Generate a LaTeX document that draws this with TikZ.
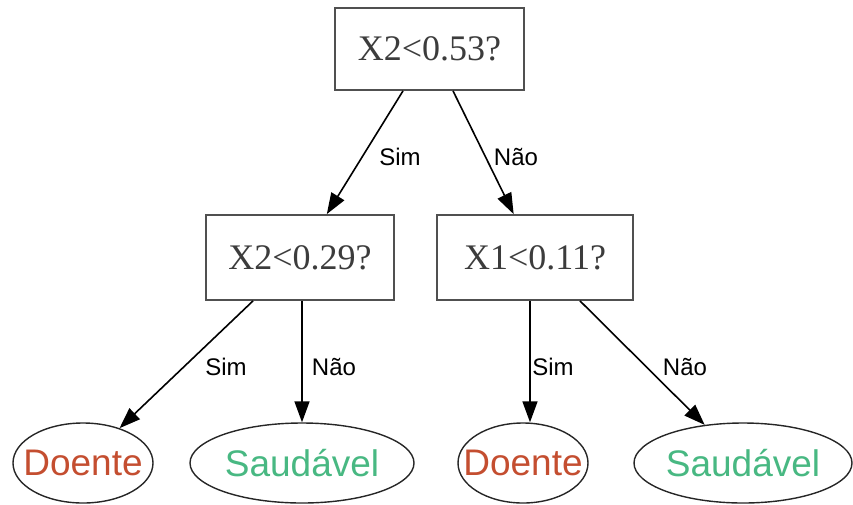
\documentclass[tikz,border=0pt]{standalone}
\usepackage{fontspec}
\setmainfont{Liberation Serif}
\setsansfont{Liberation Sans}
\usetikzlibrary{arrows.meta,shapes.geometric}
\definecolor{sick}{RGB}{196,78,48}
\definecolor{healthy}{RGB}{72,184,130}
\definecolor{boxline}{RGB}{80,80,80}
\definecolor{boxtext}{RGB}{60,60,60}
\begin{document}
\begin{tikzpicture}[x=1pt,y=-1pt,
  test/.style={draw=boxline, line width=1.8pt, rectangle, inner sep=0pt,
    text=boxtext, font=\fontsize{36}{36}\selectfont},
  leaf/.style={draw=black!85, line width=1.4pt, ellipse, inner ysep=0pt,
    inner xsep=-16pt, minimum height=80pt,
    font=\sffamily\fontsize{37}{37}\selectfont},
  edge/.style={-{Triangle[length=21pt,width=15pt]}, line width=1.6pt},
  lbl/.style={font=\sffamily\fontsize{24}{24}\selectfont, inner sep=0pt}]
\useasboundingbox (0,0) rectangle (853,504);

% decision nodes
\node[test, minimum width=189pt, minimum height=82pt] (root) at (429.5,49) {X2<0.53?};
\node[test, minimum width=188pt, minimum height=85pt] (lm) at (300,257.5) {X2<0.29?};
\node[test, minimum width=196pt, minimum height=85pt] (rm) at (535,257.5) {X1<0.11?};

% leaves
\node[leaf, minimum width=140pt, text=sick] (dl) at (83,463) {Doente};
\node[leaf, minimum width=224pt, text=healthy] (sl) at (302,463) {Saudável};
\node[leaf, minimum width=130pt, text=sick] (dr) at (523,463) {Doente};
\node[leaf, minimum width=218pt, text=healthy] (sr) at (743,463) {Saudável};

% branches
\draw[edge] ([xshift=-26.5pt]root.south) -- (lm);
\draw[edge] ([xshift=23.5pt]root.south) -- (rm);
\draw[edge] ([xshift=-47pt]lm.south) -- (dl);
\draw[edge] ([xshift=2pt]lm.south) -- (sl.north);
\draw[edge] ([xshift=-5pt]rm.south) -- ([xshift=7pt]dr.north);
\draw[edge] ([xshift=45pt]rm.south) -- (sr);

% branch labels
\node[lbl] (l1) at (400,157) {Sim};
\node[lbl] (l2) at (516,157) {Não};
\node[lbl] (l3) at (226,367) {Sim};
\node[lbl] (l4) at (334,367) {Não};
\node[lbl] (l5) at (553,367) {Sim};
\node[lbl] (l6) at (685,367) {Não};
\end{tikzpicture}
\end{document}
